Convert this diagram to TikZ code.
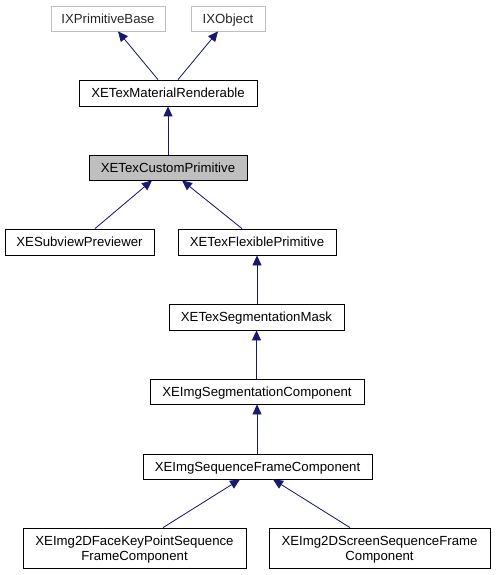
\documentclass[tikz,border=0pt]{standalone}
\usepackage{fontspec}
\setmainfont{Liberation Sans}
\usetikzlibrary{arrows.meta}
\definecolor{edgeblue}{HTML}{191970}
\definecolor{boxgray}{HTML}{BFBFBF}
\tikzset{
    cls/.style={draw=black, line width=0.8pt, inner sep=0pt, minimum height=25pt, text depth=0pt, font=\fontsize{13.2}{15}\selectfont, align=center},
    extcls/.style={cls, draw=boxgray, text=black!85},
    inherit/.style={draw=edgeblue, line width=0.8pt, -{Triangle[length=10pt,width=9pt]}, fill=edgeblue}
}
\begin{document}
\begin{tikzpicture}[x=1pt, y=-1pt]
            \useasboundingbox (0,0) rectangle (495,575);
            % top
            \node[extcls, minimum width=114pt] (primbase) at (108,18.5) {IXPrimitiveBase};
            \node[extcls, minimum width=74pt] (ixobject) at (228,18.5) {IXObject};
            \node[cls, minimum width=178pt, minimum height=26pt] (matrender) at (168,93) {XETexMaterialRenderable};
            \node[cls, fill=boxgray, minimum width=158pt] (custprim) at (168,167.5) {XETexCustomPrimitive};
            % middle
            \node[cls, minimum width=149pt, minimum height=26pt] (subview) at (79.5,242) {XESubviewPreviewer};
            \node[cls, minimum width=158pt, minimum height=26pt] (flexprim) at (257,242) {XETexFlexiblePrimitive};
            \node[cls, minimum width=175pt, minimum height=26pt] (segmask) at (256.5,317) {XETexSegmentationMask};
            \node[cls, minimum width=214pt] (segcomp) at (257,391.5) {XEImgSegmentationComponent};
            \node[cls, minimum width=229pt] (seqframe) at (257.5,466.5) {XEImgSequenceFrameComponent};
            % bottom
            \node[cls, minimum width=223pt, minimum height=40pt] (facekey) at (134.5,548) {XEImg2DFaceKeyPointSequence\\FrameComponent};
            \node[cls, minimum width=221pt, minimum height=40pt] (screenseq) at (379.5,548) {XEImg2DScreenSequenceFrame\\Component};

            % edges
            \draw[inherit] ([xshift=-10pt]matrender.north) -- ([xshift=10pt]primbase.south);
            \draw[inherit] ([xshift=10pt]matrender.north) -- ([xshift=-10pt]ixobject.south);
            \draw[inherit] ([xshift=15.5pt]subview.north) -- ([xshift=-16pt]custprim.south);
            \draw[inherit] ([xshift=-15pt]flexprim.north) -- ([xshift=14pt]custprim.south);
            \foreach \a/\b in {custprim/matrender,segmask/flexprim,segcomp/segmask,seqframe/segcomp}{
                \draw[inherit] (\a.north -| \b.south) -- (\b.south);
            }
            \draw[inherit] ([xshift=28.5pt]facekey.north) -- ([xshift=-17.5pt]seqframe.south);
            \draw[inherit] ([xshift=-29.5pt]screenseq.north) -- ([xshift=15.5pt]seqframe.south);
        \end{tikzpicture}
\end{document}
